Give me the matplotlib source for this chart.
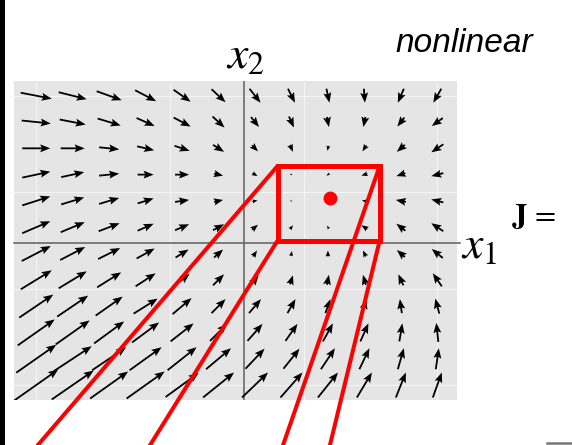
import numpy as np
import matplotlib
matplotlib.use("Agg")
import matplotlib.pyplot as plt
from matplotlib.patches import Rectangle
from matplotlib.lines import Line2D

plt.rcParams['mathtext.fontset'] = 'stix'

# sample grid of the phase plane (12 x 12), rows listed top to bottom
x1_grid = np.arange(12) - 5.7
x2_grid = 5.6 - np.arange(12)

# field components, horizontal (dx1) and vertical (dx2), in arrow pixels
u = [
    [31, 28, 25, 21, 17, 14, 11, 7, 3, 1, -6, -8],
    [29, 26, 23, 18, 17, 12, 8, 5, 2, -2, -7, -11],
    [28, 24, 20, 17, 15, 11, 6, 3, -1, -4, -8, -12],
    [28, 23, 20, 16, 14, 9, 5, 2, -3, -6, -9, -12],
    [28, 23, 20, 16, 14, 9, 5, 2, 0, -5, -10, -12],
    [28, 24, 21, 16, 14, 11, 6, 3, -2, -6, -9, -12],
    [29, 25, 22, 18, 13, 9, 4, 1, 0, -3, -8, -11],
    [31, 28, 24, 20, 15, 11, 7, 3, 2, -3, -5, -9],
    [34, 31, 27, 24, 19, 14, 12, 8, 5, 4, -2, -4],
    [37, 34, 30, 27, 23, 17, 15, 12, 10, 8, 3, -2],
    [40, 38, 34, 32, 29, 25, 19, 16, 14, 10, 6, 3],
    [44, 42, 38, 38, 33, 31, 26, 22, 20, 15, 10, 9],
]
v = [
    [-6, -7, -9, -11, -12, -13, -14, -14, -14, -14, -14, -14],
    [-3, -5, -7, -8, -9, -11, -10, -11, -10, -10, -9, -8],
    [0, 0, -2, -4, -5, -7, -6, -7, -5, -6, -7, -8],
    [6, 5, 2, 0, 0, -2, -3, -1, -2, -2, -3, -3],
    [9, 7, 6, 5, 2, 2, 1, 0, 0, 1, 2, 3],
    [12, 10, 8, 7, 6, 6, 5, 4, 3, 4, 7, 8],
    [15, 13, 11, 10, 8, 8, 6, 5, 6, 6, 7, 9],
    [19, 17, 15, 13, 12, 11, 9, 9, 10, 10, 11, 13],
    [23, 21, 19, 15, 16, 14, 14, 14, 14, 14, 14, 15],
    [26, 24, 22, 20, 18, 17, 17, 17, 18, 18, 18, 19],
    [28, 25, 23, 23, 23, 21, 20, 20, 21, 21, 21, 21],
    [31, 29, 27, 27, 24, 25, 25, 25, 25, 25, 25, 25],
]

# fixed point and the zoom window around it
fixed_point = (2.37, 1.70)
zoom_box = (0.92, 0.095, 3.72, 2.93)      # x0, y0, x1, y1
zoom_targets = [-5.85, -2.72, 0.99, 2.30]  # where the zoom lines leave the figure
zoom_target_y = -8.0

W, H = 572, 445
fig = plt.figure(figsize=(W / 100, H / 100), dpi=100)
fig.patch.set_facecolor('white')
fig.add_artist(Rectangle((0, 0), 5 / W, 1, transform=fig.transFigure,
                         color='black', lw=0))

ax = fig.add_axes([14 / W, 45 / H, 443 / W, 319 / H])
ax.set_facecolor('#e5e5e5')
ax.set_xlim(-6.31, 5.84)
ax.set_ylim(-5.97, 6.16)
for s in ax.spines.values():
    s.set_visible(False)
ax.set_xticks([])
ax.set_yticks([])

# light frame grid at thirds of the sample range
for k in range(4):
    ax.axvline(x1_grid[0] + 11 * k / 3, color='#f4f4f4', lw=0.9, zorder=1)
    ax.axhline(x2_grid[-1] + 11 * k / 3, color='#f4f4f4', lw=0.9, zorder=1)

# coordinate axes
ax.axvline(0, color='#6a6a6a', lw=1.2, zorder=2)
ax.plot([-6.31, 5.93], [0, 0], color='#6a6a6a', lw=1.2, zorder=2, clip_on=False)

# arrows: convert pixel lengths into data units through the axes scale
fig.canvas.draw()
px_x = ax.bbox.width / (ax.get_xlim()[1] - ax.get_xlim()[0])
px_y = ax.bbox.height / (ax.get_ylim()[1] - ax.get_ylim()[0])
X, Y = np.meshgrid(x1_grid, x2_grid)
U = np.array(u, float) / px_x
V = np.array(v, float) / px_y
ax.quiver(X, Y, U, V, angles='xy', scale_units='xy', scale=1, pivot='middle',
          units='dots', width=1.8, headwidth=4.4, headlength=5.6,
          headaxislength=4.8, minshaft=1, minlength=0, color='black', zorder=3)

# zoom window, fixed point and lines to the magnified view
bx0, by0, bx1, by1 = zoom_box
ax.add_patch(Rectangle((bx0, by0), bx1 - bx0, by1 - by0, fill=False,
                       edgecolor='red', lw=3.6, joinstyle='miter', zorder=5))
ax.plot(*fixed_point, 'o', color='red', ms=10, mec='none', zorder=6)
corners = [(bx0, by1), (bx0, by0), (bx1, by1), (bx1, by0)]
for (cx, cy), tx in zip(corners, zoom_targets):
    ax.plot([cx, tx], [cy, zoom_target_y], color='red', lw=2.9,
            solid_capstyle='butt', clip_on=False, zorder=5)

fig.text(226 / W, 1 - 68 / H, r'$x_2$', fontsize=33, ha='left', va='baseline')
fig.text(461 / W, 1 - 258 / H, r'$x_1$', fontsize=33, ha='left', va='baseline')
fig.text(395 / W, 1 - 52 / H, 'nonlinear', fontsize=24, style='italic',
         family='Liberation Sans', ha='left', va='baseline')
fig.text(511 / W, 1 - 225 / H, r'$\mathbf{J}\,=$', fontsize=22, ha='left',
         va='baseline')
fig.add_artist(Line2D([547 / W, 1], [1 - 443 / H] * 2, transform=fig.transFigure,
                      color='#777777', lw=1.8))

fig.savefig('out.png', dpi=100)
